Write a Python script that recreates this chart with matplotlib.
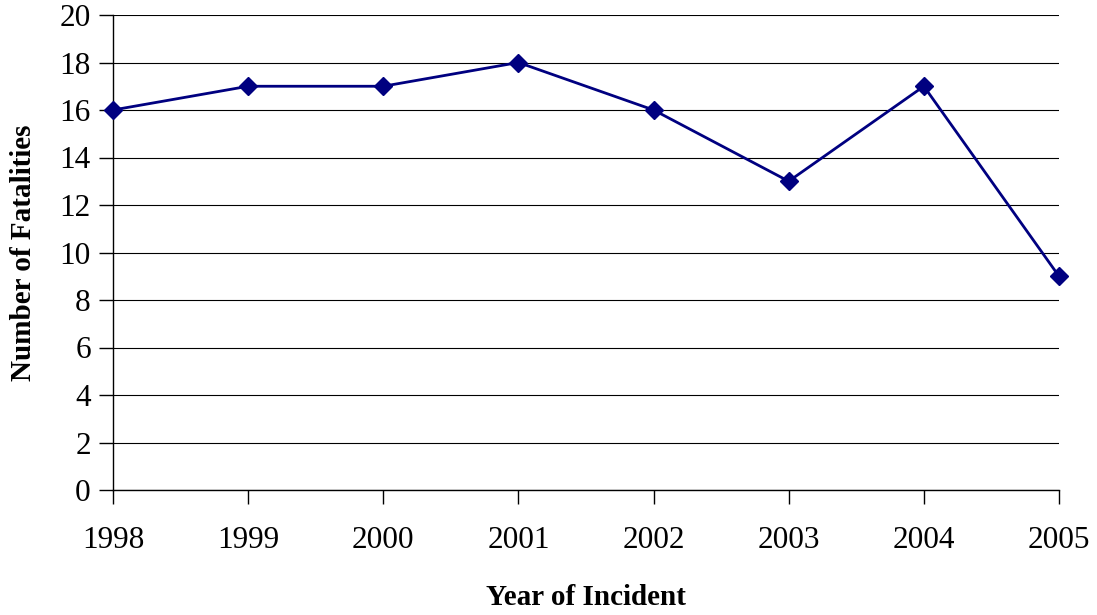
import matplotlib
matplotlib.use("Agg")
from matplotlib import pyplot as plt

years = ["1998", "1999", "2000", "2001", "2002", "2003", "2004", "2005"]
fatalities = [16, 17, 17, 18, 16, 13, 17, 9]
y_ticks = list(range(0, 21, 2))

plt.rcParams['font.family'] = ['Liberation Serif', 'DejaVu Serif']

fig = plt.figure(figsize=(10.97, 6.15), dpi=100)
ax = fig.add_axes([113 / 1097, 125 / 615, 946 / 1097, 475 / 615])

x = list(range(len(years)))
ax.plot(x, fatalities, color='#000080', linewidth=2, marker='D', markersize=9,
        markerfacecolor='#000080', markeredgecolor='#000080', zorder=3,
        clip_on=False)

ax.set_xlim(0, len(years) - 1)
ax.set_ylim(0, 20)
ax.set_xticks(x)
ax.set_xticklabels(years)
ax.set_yticks(y_ticks)
ax.yaxis.grid(True, color='black', linewidth=0.8)
ax.set_axisbelow(True)

for side in ['top', 'right']:
    ax.spines[side].set_visible(False)
for side in ['left', 'bottom']:
    ax.spines[side].set_linewidth(1.0)

ax.tick_params(axis='both', labelsize=22.5, direction='out', length=10, width=1)
ax.tick_params(axis='x', pad=16)
ax.tick_params(axis='y', pad=6)

ax.set_xlabel('Year of Incident', fontsize=21, fontweight='bold', labelpad=21)
ax.set_ylabel('Number of Fatalities', fontsize=21, fontweight='bold', labelpad=16)

fig.savefig('out.png', dpi=100)
